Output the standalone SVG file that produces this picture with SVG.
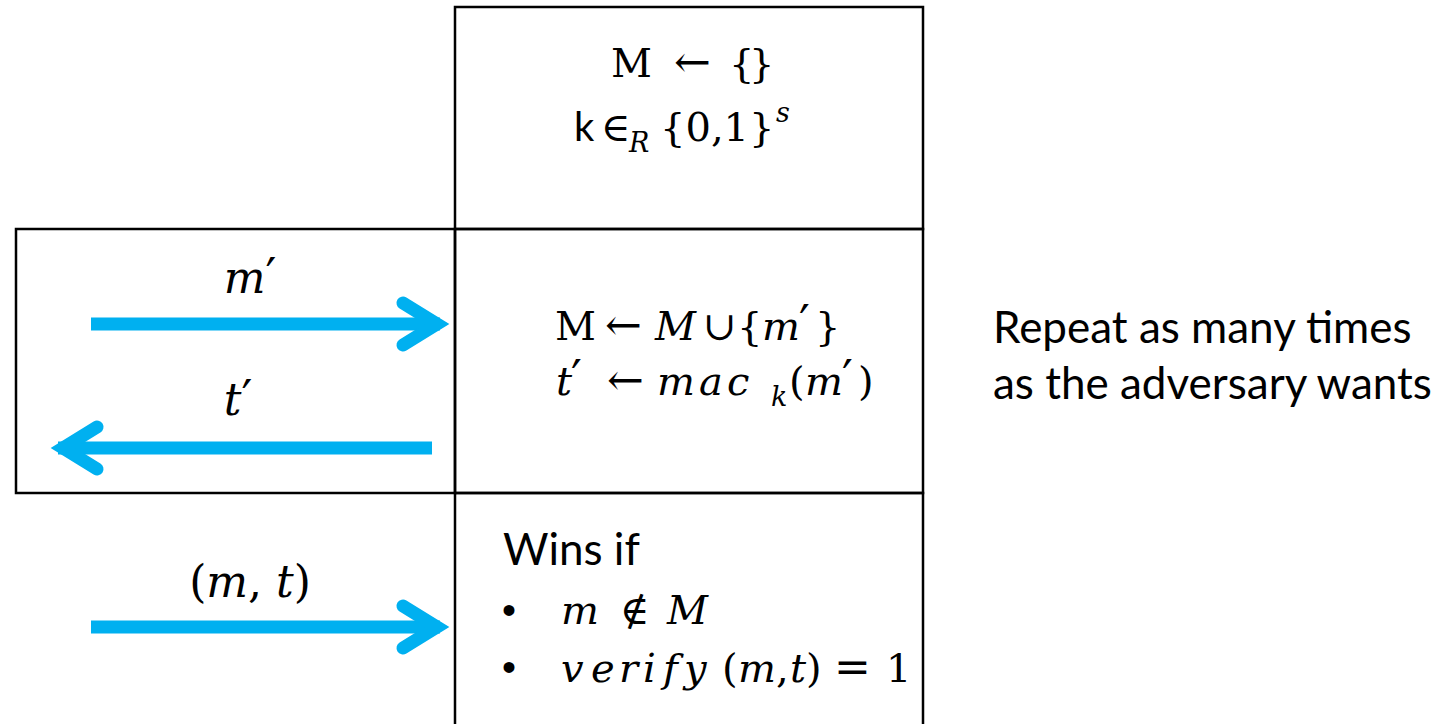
<svg xmlns="http://www.w3.org/2000/svg" width="1443" height="724" viewBox="0 0 1443 724">
<style>
.box{fill:none;stroke:#000;stroke-width:2.5}
.m{font-family:"DejaVu Serif","Liberation Serif",serif;font-size:40px;fill:#000}
.op{font-size:44px}
.pr{font-size:48px;font-style:normal}
.sub{font-size:27px;font-style:italic}
.lbl{font-family:"DejaVu Serif","Liberation Serif",serif;font-size:44px;fill:#000}
.i{font-style:italic}
.s{font-family:Lato,"Liberation Sans",sans-serif;font-size:44px;fill:#000}
.b{font-family:"Liberation Sans",Arial,sans-serif;font-size:40px;fill:#000}
.arr{fill:none;stroke:#00B0F0;stroke-width:13;stroke-linecap:round;stroke-linejoin:miter}
.shaft{stroke:#00B0F0;stroke-width:13;stroke-linecap:butt}
</style>
<rect width="1443" height="724" fill="#fff"/>
<g id="init">
<rect class="box" x="455" y="7" width="468" height="222"/>
<text class="m" y="77"><tspan x="611">M</tspan><tspan class="op" x="674">←</tspan><tspan x="729 749">{}</tspan></text>
<text class="m" y="141"><tspan class="s" style="font-size:40px" x="574">k</tspan><tspan x="601">∈</tspan><tspan class="sub" x="629" y="152">R</tspan><tspan x="660" y="141">{0,1}</tspan><tspan class="sub" x="776" y="122">s</tspan></text>
</g>
<g id="adversary-box">
<rect class="box" x="16" y="229" width="439" height="264"/>
</g>
<g id="oracle">
<rect class="box" x="455" y="229" width="468" height="264"/>
<text class="m" y="340"><tspan x="555">M</tspan><tspan class="op" x="605">←</tspan><tspan class="i" x="655">M</tspan><tspan x="703">∪</tspan><tspan x="737">{</tspan><tspan class="i" x="762">m</tspan><tspan class="pr" x="799">′</tspan><tspan x="815">}</tspan></text>
<text class="m" y="395"><tspan class="i" x="556">t</tspan><tspan class="pr" x="571">′</tspan><tspan class="op" x="607">←</tspan><tspan class="i" x="657 699 727">mac</tspan><tspan class="sub" x="771" y="406">k</tspan><tspan x="789" y="395">(</tspan><tspan class="i" x="805">m</tspan><tspan class="pr" x="842">′</tspan><tspan x="858">)</tspan></text>
</g>
<g id="win">
<rect class="box" x="455" y="493" width="468" height="240"/>
<text class="s" x="503" y="565">Wins if</text>
<text class="b" x="502" y="624">•</text>
<text class="m" y="624"><tspan class="i" x="561">m</tspan><tspan x="620">∉</tspan><tspan class="i" x="667">M</tspan></text>
<text class="b" x="502" y="681">•</text>
<text class="m" y="682"><tspan class="i" x="561 591 619 643 663 684">verify</tspan><tspan x="722">(</tspan><tspan class="i" x="738">m</tspan><tspan x="776">,</tspan><tspan class="i" x="790">t</tspan><tspan x="806">)</tspan><tspan class="op" x="834">=</tspan><tspan x="886">1</tspan></text>
</g>
<g id="repeat-note">
<text class="s" x="993" y="343">Repeat as many times</text>
<text class="s" x="993" y="399">as the adversary wants</text>
</g>
<g id="connectors">
<g id="query">
<line class="shaft" x1="91" y1="324" x2="440" y2="324"/>
<polyline class="arr" points="403,303 437,324 403,345"/>
<text class="lbl" x="250" y="293" text-anchor="middle"><tspan class="i">m</tspan><tspan class="pr">′</tspan></text>
</g>
<g id="reply">
<line class="shaft" x1="432" y1="448" x2="58" y2="448"/>
<polyline class="arr" points="97,427 63,448 97,469"/>
<text class="lbl" x="238" y="415" text-anchor="middle"><tspan class="i">t</tspan><tspan class="pr">′</tspan></text>
</g>
<g id="forgery">
<line class="shaft" x1="91" y1="627" x2="440" y2="627"/>
<polyline class="arr" points="403,606 437,627 403,648"/>
<text class="lbl" x="250" y="597" text-anchor="middle">(<tspan class="i">m</tspan>, <tspan class="i">t</tspan>)</text>
</g>
</g>
</svg>
